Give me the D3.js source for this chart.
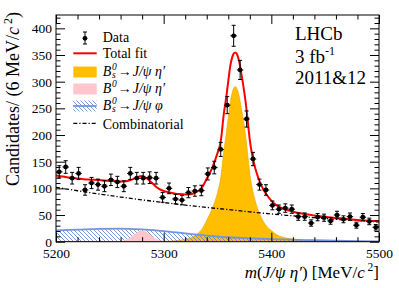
<!DOCTYPE html>
<html><head><meta charset="utf-8">
<script src="https://cdn.jsdelivr.net/npm/d3@7"></script>
<style>body{margin:0;background:#fff}svg{display:block}text{font-family:"Liberation Serif","Times New Roman",serif;fill:#000}</style>
</head><body>
<svg id="c" width="399" height="288"></svg>
<script>
// ---- data ----
const binCenters = [5203,5209,5215,5221,5227,5233,5239,5245,5251,5257,5263,5269,5275,5281,5287,5293,5299,5305,5311,5317,5323,5329,5335,5341,5347,5353,5359,5365,5371,5377,5383,5389,5395,5401,5407,5413,5419,5425,5431,5437,5443,5449,5455,5461,5467,5473,5479,5485,5491,5497];
const counts = [131,140,119,128,97,110,107,104,116,112,104,128,119,119,120,119,83,100,80,78,92,95,96,127,139,173,256,386,322,230,155,107,97,68,61,63,61,47,47,35,46,45,39,50,42,47,31,46,38,27];

const totMass = [5200,5210,5220,5230,5240,5250,5260,5265,5270,5275,5280,5285,5290,5295,5300,5305,5310,5315,5320,5325,5330,5335,5340,5345,5350,5353,5356,5358,5360,5362,5364,5366,5367,5368,5370,5372,5374,5376,5378,5380,5382,5385,5388,5392,5396,5400,5405,5410,5420,5430,5440,5450,5460,5470,5480,5490,5500];
const totVals = [124,121,118.5,116.5,115.5,114,113,113.5,116,120.5,123,117.5,108.5,100,95,92.5,90.5,89.2,88.7,89,93,100,118,138,166,188,242,269,301,331,348,354,354,352,339,317,292,264,228,191,165,138,119,100,87,77,68,62.7,56.3,52.2,49.2,46.7,44.6,42.6,40.9,39.4,38.1];

const sigMass = [5200,5250,5290,5300,5305,5310,5315,5320,5325,5330,5335,5340,5345,5350,5353,5356,5358,5360,5362,5364,5366,5367,5368,5370,5372,5374,5376,5378,5380,5382,5385,5388,5392,5396,5400,5405,5410,5420,5430,5440,5450,5460,5470,5480,5490,5500];
const sigVals = [0.3,0.4,0.6,0.9,1.1,1.7,2.7,4.5,7,13,22,40,62,92,120,172,200,233,263,282,290,290,287,274,252,228,200,165,128,103,77,58,40,28,21,13,9,5,3.2,2.5,1.8,1.3,1,0.8,0.6,0.5];

const pinkMass = [5250,5255,5260,5265,5270,5275,5280,5285,5290,5295,5300,5305,5310];
const pinkVals = [0,0.2,0.9,3.6,9.5,17,21,17,9.5,3.6,0.9,0.2,0];

const phiMass = [5200,5220,5240,5260,5280,5300,5320,5340,5360,5380,5400,5420,5440,5460,5480,5500];
const phiVals = [21,22.5,24,24.5,23,20,15.5,11.5,8.3,6.3,5,3.8,2.7,1.8,1.1,0.6];

const combMass = [5200,5220,5240,5260,5280,5300,5320,5340,5360,5380,5400,5420,5440,5460,5480,5500];
const combVals = [102,95.5,89.4,83.7,78.4,73.4,68.7,64.3,60.2,56,52,48.5,45,42,39.5,37];

const xMajor = [5200,5300,5400,5500];
const xMinor = [5220,5240,5260,5280,5320,5340,5360,5380,5420,5440,5460,5480];
const yMajor = [0,50,100,150,200,250,300,350,400];
const yMinor = [10,20,30,40,60,70,80,90,110,120,130,140,160,170,180,190,210,220,230,240,260,270,280,290,310,320,330,340,360,370,380,390,410,420];

// ---- drawing ----
const FONT = "'Liberation Serif','Times New Roman',serif";
const svg = d3.select("#c");
const L=56, R=379, T=15, B=241.7;
const x = d3.scaleLinear().domain([5200,5500]).range([L,R]);
const y = d3.scaleLinear().domain([0,425]).range([B,T]);

const defs = svg.append("defs");
defs.append("clipPath").attr("id","clip").append("rect").attr("x",L).attr("y",T).attr("width",R-L).attr("height",B-T);
const pat = defs.append("pattern").attr("id","hatch").attr("patternUnits","userSpaceOnUse").attr("width",4).attr("height",4);
pat.append("path").attr("d","M-1,-1 L5,5 M-1,3 L1,5 M3,-1 L5,1").attr("stroke","#5b7fd3").attr("stroke-width",0.8);

const plot = svg.append("g").attr("clip-path","url(#clip)");
const pts = (m,v)=>m.map((d,i)=>[d,v[i]]);
const area = d3.area().x(d=>x(d[0])).y0(y(0)).y1(d=>y(d[1])).curve(d3.curveMonotoneX);
const line = d3.line().x(d=>x(d[0])).y(d=>y(d[1])).curve(d3.curveMonotoneX);

plot.append("path").attr("d",area(pts(sigMass,sigVals))).attr("fill","#ffbf00").attr("stroke","#e8a300").attr("stroke-width",0.6);
plot.append("path").attr("d",area(pts(phiMass,phiVals))).attr("fill","url(#hatch)");
plot.append("path").attr("d",area(pts(pinkMass,pinkVals))).attr("fill","#ffc6cc");
plot.append("path").attr("d",line(pts(phiMass,phiVals))).attr("fill","none").attr("stroke","#7394dc").attr("stroke-width",1.8);
plot.append("path").attr("d",line(pts(combMass,combVals))).attr("fill","none").attr("stroke","#000").attr("stroke-width",1.3).attr("stroke-dasharray","4,2,1.2,2");
plot.append("path").attr("d",line(pts(totMass,totVals))).attr("fill","none").attr("stroke","#ff0000").attr("stroke-width",2);

const dg = plot.append("g");
binCenters.forEach((m,i)=>{
  const n=counts[i], e=Math.sqrt(n), cx=x(m);
  dg.append("line").attr("x1",cx).attr("x2",cx).attr("y1",y(n-e)).attr("y2",y(n+e)).attr("stroke","#000").attr("stroke-width",1);
  dg.append("line").attr("x1",cx-2).attr("x2",cx+2).attr("y1",y(n-e)).attr("y2",y(n-e)).attr("stroke","#000").attr("stroke-width",1);
  dg.append("line").attr("x1",cx-2).attr("x2",cx+2).attr("y1",y(n+e)).attr("y2",y(n+e)).attr("stroke","#000").attr("stroke-width",1);
  dg.append("line").attr("x1",x(m-3)).attr("x2",x(m+3)).attr("y1",y(n)).attr("y2",y(n)).attr("stroke","#000").attr("stroke-width",1);
  dg.append("circle").attr("cx",cx).attr("cy",y(n)).attr("r",2.4).attr("fill","#000");
});

// axes
function styleAxis(g){
  g.attr("font-family",FONT).attr("font-size",13.5);
  g.select(".domain").remove();
  g.selectAll("line").attr("stroke","#000");
  g.selectAll("text").attr("font-family",FONT).style("font-family",FONT).style("font-size","13.5px").attr("fill","#000");
}
svg.append("g").attr("transform",`translate(${L},0)`).call(d3.axisLeft(y).tickValues(yMajor).tickSize(-9).tickPadding(4)).call(styleAxis);
svg.append("g").attr("transform",`translate(${L},0)`).call(d3.axisLeft(y).tickValues(yMinor).tickSize(-4.5).tickFormat("")).call(styleAxis);
svg.append("g").attr("transform",`translate(${R},0)`).call(d3.axisRight(y).tickValues(yMajor).tickSize(-9).tickFormat("")).call(styleAxis);
svg.append("g").attr("transform",`translate(${R},0)`).call(d3.axisRight(y).tickValues(yMinor).tickSize(-4.5).tickFormat("")).call(styleAxis);
svg.append("g").attr("transform",`translate(0,${B})`).call(d3.axisBottom(x).tickValues(xMajor).tickSize(-9).tickPadding(6.5).tickFormat(d3.format("d"))).call(styleAxis);
svg.append("g").attr("transform",`translate(0,${B})`).call(d3.axisBottom(x).tickValues(xMinor).tickSize(-4.5).tickFormat("")).call(styleAxis);
svg.append("g").attr("transform",`translate(0,${T})`).call(d3.axisTop(x).tickValues(xMajor).tickSize(-9).tickFormat("")).call(styleAxis);
svg.append("g").attr("transform",`translate(0,${T})`).call(d3.axisTop(x).tickValues(xMinor).tickSize(-4.5).tickFormat("")).call(styleAxis);
svg.append("rect").attr("x",L).attr("y",T).attr("width",R-L).attr("height",B-T).attr("fill","none").attr("stroke","#000").attr("stroke-width",1);

// axis titles
const yt = svg.append("text").attr("transform","rotate(-90)").attr("x",-12).attr("y",19).attr("text-anchor","end").style("font-size","18px");
yt.append("tspan").text("Candidates/ (6 MeV/");
yt.append("tspan").style("font-style","italic").text("c");
yt.append("tspan").attr("dy",-7).style("font-size","12px").text(" 2");
yt.append("tspan").attr("dy",7).text(")");

const xt = svg.append("text").attr("x",379).attr("y",278).attr("text-anchor","end").style("font-size","17px");
xt.append("tspan").style("font-style","italic").text("m");
xt.append("tspan").text("(");
xt.append("tspan").style("font-style","italic").text("J/ψ η′");
xt.append("tspan").text(") [MeV/");
xt.append("tspan").style("font-style","italic").text("c");
xt.append("tspan").attr("dy",-7).style("font-size","11.5px").text(" 2");
xt.append("tspan").attr("dy",7).text("]");

// legend
const lg = svg.append("g");
const lx0=73.3, lx1=96.7, tx=102.7;
lg.append("line").attr("x1",85).attr("x2",85).attr("y1",32).attr("y2",44).attr("stroke","#000");
lg.append("line").attr("x1",83).attr("x2",87).attr("y1",32).attr("y2",32).attr("stroke","#000");
lg.append("line").attr("x1",83).attr("x2",87).attr("y1",44).attr("y2",44).attr("stroke","#000");
lg.append("circle").attr("cx",85).attr("cy",38.3).attr("r",2.4).attr("fill","#000");
lg.append("text").attr("x",tx).attr("y",42).style("font-size","14px").text("Data");
lg.append("line").attr("x1",lx0).attr("x2",lx1).attr("y1",53.3).attr("y2",53.3).attr("stroke","#ff0000").attr("stroke-width",2);
lg.append("text").attr("x",tx).attr("y",58).style("font-size","14px").text("Total fit");
lg.append("rect").attr("x",lx0).attr("y",66.5).attr("width",lx1-lx0).attr("height",11).attr("fill","#ffbf00");
lg.append("rect").attr("x",lx0).attr("y",83.5).attr("width",lx1-lx0).attr("height",11).attr("fill","#ffc6cc");
lg.append("rect").attr("x",lx0).attr("y",100.5).attr("width",lx1-lx0).attr("height",11).attr("fill","url(#hatch)");
lg.append("line").attr("x1",lx0).attr("x2",lx1).attr("y1",106).attr("y2",106).attr("stroke","#7394dc").attr("stroke-width",1.8);
lg.append("line").attr("x1",lx0).attr("x2",lx1).attr("y1",123.3).attr("y2",123.3).attr("stroke","#000").attr("stroke-width",1.3).attr("stroke-dasharray","4,2,1.2,2");
lg.append("text").attr("x",tx).attr("y",128.5).style("font-size","14px").text("Combinatorial");

function decay(yb, sub, tail){
  const g = lg.append("g");
  g.append("text").attr("x",tx).attr("y",yb).style("font-size","14px").style("font-style","italic").text("B");
  g.append("text").attr("x",tx+9.3).attr("y",yb-6).style("font-size","9.5px").style("font-style","italic").text("0");
  if(sub) g.append("text").attr("x",tx+9.3).attr("y",yb+2.5).style("font-size","9.5px").style("font-style","italic").text(sub);
  g.append("text").attr("x",tx+15).attr("y",yb).style("font-size","14px").text("→");
  g.append("text").attr("x",tx+30).attr("y",yb).style("font-size","14px").style("font-style","italic").text(tail);
}
decay(75.5,"s","J/ψ η′");
decay(92.5,"","J/ψ η′");
decay(109.5,"s","J/ψ φ");

// LHCb label
svg.append("text").attr("x",295).attr("y",40).style("font-size","19px").text("LHCb");
const fb = svg.append("text").attr("x",295).attr("y",63).style("font-size","19px");
fb.append("tspan").text("3 fb");
fb.append("tspan").attr("dy",-8).style("font-size","12px").text("-1");
svg.append("text").attr("x",295).attr("y",84).style("font-size","19px").text("2011&12");
</script>
</body></html>
